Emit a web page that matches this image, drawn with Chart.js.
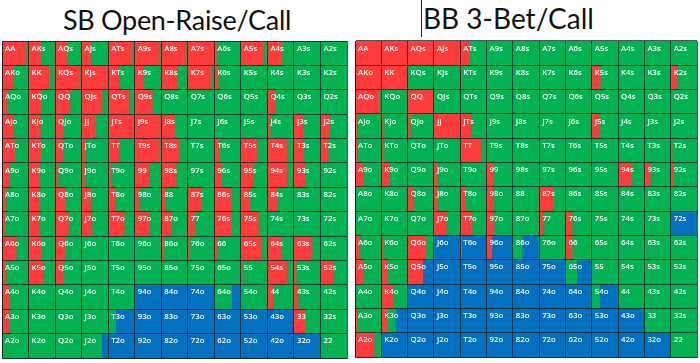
<!DOCTYPE html>
<html>
<head>
<meta charset="utf-8">
<script src="https://cdn.jsdelivr.net/npm/chart.js@4"></script>
<style>
  body { margin: 0; background: #fff; width: 700px; height: 363px; position: relative; overflow: hidden; }
  .title { position: absolute; top: 0; font-family: Lato, sans-serif; color: #111; white-space: nowrap; }
  #sbTitle { left: 2px; width: 350px; text-align: center; font-size: 27px; line-height: 39px; letter-spacing: -0.3px; }
  #bbTitle { left: 423px; font-size: 28px; line-height: 37px; }
  #cursor { position: absolute; left: 421px; top: 0; width: 1px; height: 37px; background: #222; }
  canvas { position: absolute; }
  #sbChart { left: 1px; top: 40px; }
  #bbChart { left: 354px; top: 40px; }
</style>
</head>
<body>
<div class="title" id="sbTitle">SB Open-Raise/Call</div>
<div class="title" id="bbTitle">BB 3-Bet/Call</div>
<div id="cursor"></div>
<canvas id="sbChart" width="347" height="319"></canvas>
<canvas id="bbChart" width="344" height="318"></canvas>
<script>
const ranks = ['A', 'K', 'Q', 'J', 'T', '9', '8', '7', '6', '5', '4', '3', '2'];

// share of each hand that raises (red, from the left)
const sbRaise = [
  [0.9, 0.45, 0.43, 0.33, 0.9, 0.92, 0.93, 0.98, 0.08, 0.85, 0.55, 0, 0],
  [0.4, 0.8, 0.94, 0.94, 0.4, 0.32, 0.6, 0.86, 0.14, 0, 0, 0, 0],
  [0.18, 0.45, 0.56, 0.77, 0.78, 0.66, 0, 0, 0, 0, 0.29, 0, 0],
  [0.4, 0.44, 0.3, 0.52, 0.97, 0.96, 0.5, 0, 0, 0, 0.1, 0.34, 0.32],
  [0.47, 0.45, 0.28, 0.14, 0.4, 0.92, 0.68, 0, 0.2, 0.6, 0.73, 0.37, 0.29],
  [0.28, 0.42, 0.11, 0.1, 0.09, 0.53, 0.56, 0, 0.27, 0.47, 0.73, 0.43, 0],
  [0.15, 0.4, 0.37, 0.33, 0.25, 0.15, 0.14, 0.5, 0.65, 0.34, 0.35, 0, 0],
  [0.12, 0.4, 0.5, 0.39, 0.6, 0.53, 0.37, 0.25, 0.65, 0.66, 0, 0, 0],
  [0.53, 0.48, 0.37, 0, 0, 0, 0.1, 0.07, 0.1, 0.78, 0.54, 0.68, 0],
  [0.15, 0.54, 0.3, 0, 0, 0, 0, 0, 0, 0.05, 0.73, 0.08, 0.5],
  [0.25, 0, 0, 0, 0, 0, 0, 0, 0, 0, 0.2, 0.15, 0],
  [0.25, 0, 0, 0, 0, 0, 0, 0, 0, 0, 0, 0.43, 0],
  [0, 0, 0, 0, 0, 0, 0, 0, 0, 0, 0, 0, 0]
];
// share that folds (blue, from the right); the rest calls (green)
const sbFold = [
  [0, 0, 0, 0, 0, 0, 0, 0, 0, 0, 0, 0, 0],
  [0, 0, 0, 0, 0, 0, 0, 0, 0, 0, 0, 0, 0],
  [0, 0, 0, 0, 0, 0, 0, 0, 0, 0, 0, 0, 0],
  [0, 0, 0, 0, 0, 0, 0, 0, 0, 0, 0, 0, 0],
  [0, 0, 0, 0, 0, 0, 0, 0, 0, 0, 0, 0, 0],
  [0, 0, 0, 0, 0, 0, 0, 0, 0, 0, 0, 0, 0],
  [0, 0, 0, 0, 0, 0, 0, 0, 0, 0, 0, 0, 0],
  [0, 0, 0, 0, 0, 0, 0, 0, 0, 0, 0, 0, 0],
  [0, 0, 0, 0, 0, 0, 0, 0, 0, 0, 0, 0, 0],
  [0, 0, 0, 0, 0, 0, 0, 0, 0, 0, 0, 0, 0],
  [0, 0, 0, 0, 0, 1, 1, 1, 0.35, 0, 0, 0, 0],
  [0, 0, 0, 0, 0.72, 1, 1, 1, 1, 1, 1, 0, 0],
  [0, 0, 0, 0.25, 1, 1, 1, 1, 1, 1, 1, 1, 0]
];

const bbRaise = [
  [1, 1, 1, 1, 0.35, 0, 0, 0, 0, 0, 0, 0, 0],
  [1, 1, 0, 0, 0.06, 0, 0, 0, 0, 0.32, 0, 0, 0.23],
  [0.94, 0, 0.96, 0, 0, 0, 0, 0, 0, 0, 0, 0, 0],
  [0.07, 0.06, 0.1, 0.97, 0.4, 0, 0, 0, 0, 0.28, 0, 0, 0],
  [0.07, 0.05, 0, 0, 0.78, 0, 0, 0, 0, 0, 0, 0, 0.05],
  [0.3, 0.28, 0, 0.14, 0, 0.27, 0, 0, 0, 0, 0.52, 0.22, 0.1],
  [0, 0, 0.2, 0.14, 0.2, 0.25, 0, 0.55, 0, 0, 0, 0, 0],
  [0, 0, 0, 0.47, 0.45, 0.28, 0, 0.14, 0.25, 0, 0, 0, 0],
  [0.18, 0.07, 0.7, 0, 0.05, 0.2, 0, 0, 0.25, 0, 0, 0, 0],
  [0.3, 0.24, 0.58, 0, 0, 0, 0, 0, 0, 0, 0, 0, 0],
  [0, 0.47, 0, 0, 0, 0, 0, 0, 0, 0, 0, 0, 0],
  [0.07, 0.24, 0, 0, 0, 0, 0, 0, 0, 0, 0, 0, 0],
  [0.73, 0, 0, 0, 0, 0, 0, 0, 0, 0, 0, 0, 0]
];
const bbFold = [
  [0, 0, 0, 0, 0, 0, 0, 0, 0, 0, 0, 0, 0],
  [0, 0, 0, 0, 0, 0, 0, 0, 0, 0, 0, 0, 0],
  [0, 0, 0, 0, 0, 0, 0, 0, 0, 0, 0, 0, 0],
  [0, 0, 0, 0, 0, 0, 0, 0, 0, 0, 0, 0, 0],
  [0, 0, 0, 0, 0, 0, 0, 0, 0, 0, 0, 0, 0],
  [0, 0, 0, 0, 0, 0, 0, 0, 0, 0, 0, 0, 0],
  [0, 0, 0, 0, 0, 0, 0, 0, 0, 0, 0, 0, 0],
  [0, 0, 0, 0, 0, 0, 0, 0, 0, 0, 0, 0, 1],
  [0, 0, 0, 1, 0.95, 0.8, 0.65, 0, 0, 0, 0, 0, 0],
  [0, 0, 0.42, 1, 1, 1, 1, 1, 0.57, 0, 0, 0, 0],
  [0, 0, 1, 1, 1, 1, 1, 1, 1, 0.7, 0, 0, 0],
  [0, 0.47, 1, 1, 1, 1, 1, 1, 1, 1, 1, 0, 0],
  [0, 1, 1, 1, 1, 1, 1, 1, 1, 1, 1, 1, 0]
];

const RED = 'rgb(255, 59, 59)';
const GREEN = 'rgb(0, 178, 82)';
const BLUE = 'rgb(0, 112, 192)';
const LINE = 'rgba(20, 30, 25, 0.75)';

function handName(i, j) {
  if (i === j) return ranks[i] + ranks[j];
  if (j > i) return ranks[i] + ranks[j] + 's';
  return ranks[j] + ranks[i] + 'o';
}

// floating bars: one segment per cell and action
function segments(raise, fold) {
  const red = [], green = [], blue = [];
  for (let i = 0; i < 13; i++) {
    for (let j = 0; j < 13; j++) {
      const r = raise[i][j], f = fold[i][j];
      if (r > 0) red.push({ y: ranks[i], x: [j, j + r] });
      if (1 - r - f > 0.001) green.push({ y: ranks[i], x: [j + r, j + 1 - f] });
      if (f > 0) blue.push({ y: ranks[i], x: [j + 1 - f, j + 1] });
    }
  }
  return [
    { label: 'Raise', data: red, backgroundColor: RED },
    { label: 'Call', data: green, backgroundColor: GREEN },
    { label: 'Fold', data: blue, backgroundColor: BLUE }
  ];
}

const handLabels = {
  id: 'handLabels',
  afterDraw(chart) {
    const { ctx, scales: { x, y } } = chart;
    const half = (y.bottom - y.top) / 26;
    ctx.save();
    ctx.fillStyle = '#fff';
    ctx.font = '600 7.8px "Open Sans", sans-serif';
    ctx.textBaseline = 'top';
    for (let i = 0; i < 13; i++) {
      for (let j = 0; j < 13; j++) {
        ctx.fillText(handName(i, j), x.getPixelForValue(j) + 3, y.getPixelForValue(i) - half + 3.5);
      }
    }
    ctx.restore();
  }
};

function makeChart(id, raise, fold) {
  return new Chart(document.getElementById(id), {
    type: 'bar',
    data: { labels: ranks, datasets: segments(raise, fold) },
    options: {
      indexAxis: 'y',
      responsive: false,
      animation: false,
      devicePixelRatio: 1,
      layout: { padding: 1 },
      datasets: { bar: { grouped: false, barPercentage: 1, categoryPercentage: 1, borderWidth: 0 } },
      plugins: { legend: { display: false }, tooltip: { enabled: false } },
      scales: {
        x: {
          type: 'linear', min: 0, max: 13,
          ticks: { display: false, stepSize: 1 },
          grid: { color: LINE, drawTicks: false, z: 1 },
          border: { color: LINE, z: 1 }
        },
        y: {
          type: 'category',
          ticks: { display: false },
          grid: { color: LINE, drawTicks: false, offset: true, z: 1 },
          border: { color: LINE, z: 1 }
        }
      }
    },
    plugins: [handLabels]
  });
}

makeChart('sbChart', sbRaise, sbFold);
makeChart('bbChart', bbRaise, bbFold);
</script>
</body>
</html>
